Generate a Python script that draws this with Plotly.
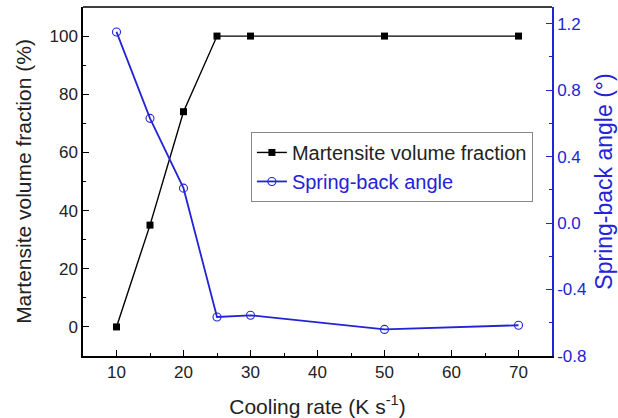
import plotly.graph_objects as go

cooling_rate = [10, 15, 20, 25, 30, 50, 70]
martensite = [0, 35, 74, 100, 100, 100, 100]
springback = [1.15, 0.63, 0.21, -0.565, -0.555, -0.64, -0.615]

BLUE = "rgb(35,35,215)"
FONT = "Liberation Sans, Arial, sans-serif"

fig = go.Figure()
fig.add_trace(go.Scatter(
    x=cooling_rate, y=martensite, name="Martensite volume fraction",
    mode="lines+markers",
    line=dict(color="black", width=1.4),
    marker=dict(symbol="square", size=7, color="black"),
))
fig.add_trace(go.Scatter(
    x=cooling_rate, y=springback,
    name=f"<span style='color:{BLUE}'>Spring-back angle</span>", yaxis="y2",
    mode="lines+markers",
    line=dict(color=BLUE, width=1.8),
    marker=dict(symbol="circle-open", size=8, color=BLUE, line=dict(width=1.1)),
))

fig.update_layout(
    width=618, height=418,
    margin=dict(l=83, r=66, t=7, b=62, autoexpand=False),
    paper_bgcolor="white", plot_bgcolor="white",
    font=dict(family=FONT, size=17, color="#222"),
    showlegend=True,
    legend=dict(
        x=0.358, y=0.642, xanchor="left", yanchor="top",
        bordercolor="#888", borderwidth=1, bgcolor="white",
        font=dict(size=20, color="#222"),
        tracegroupgap=0, itemwidth=30,
    ),
    xaxis=dict(
        range=[5, 75], tickvals=[10, 20, 30, 40, 50, 60, 70],
        ticks="inside", ticklen=6, tickwidth=1, tickcolor="black",
        minor=dict(ticks="inside", ticklen=3, tickwidth=1, tickcolor="black", dtick=5),
        showline=True, linecolor="black", linewidth=1.5, mirror=False,
        showgrid=False, zeroline=False, automargin=False,
        title=dict(text="Cooling rate (K s<sup>-1</sup>)", font=dict(size=21), standoff=18),
        tickfont=dict(size=17),
    ),
    yaxis=dict(
        range=[-10, 110], tickvals=[0, 20, 40, 60, 80, 100],
        ticks="inside", ticklen=6, tickwidth=1, tickcolor="black",
        minor=dict(ticks="inside", ticklen=3, tickwidth=1, tickcolor="black", dtick=10),
        showline=True, linecolor="black", linewidth=1.5,
        showgrid=False, zeroline=False, automargin=False,
        title=dict(text="Martensite volume fraction (%)", font=dict(size=21), standoff=12),
        tickfont=dict(size=17),
    ),
    yaxis2=dict(
        overlaying="y", side="right",
        range=[-0.8, 1.3], tickvals=[-0.8, -0.4, 0.0, 0.4, 0.8, 1.2],
        ticktext=["-0.8", "-0.4", "0.0", "0.4", "0.8", "1.2"],
        ticks="inside", ticklen=6, tickwidth=1, tickcolor=BLUE,
        minor=dict(ticks="inside", ticklen=3, tickwidth=1, tickcolor=BLUE, dtick=0.2),
        showline=True, linecolor=BLUE, linewidth=1.5,
        showgrid=False, zeroline=False, automargin=False,
        title=dict(text="Spring-back angle (°)", font=dict(size=23, color=BLUE), standoff=10),
        tickfont=dict(size=17, color=BLUE),
    ),
)
# top frame line
fig.add_shape(type="line", xref="paper", yref="paper", x0=0, x1=1, y0=1, y1=1,
              line=dict(color="black", width=1.5))

fig.write_html("out.html")
